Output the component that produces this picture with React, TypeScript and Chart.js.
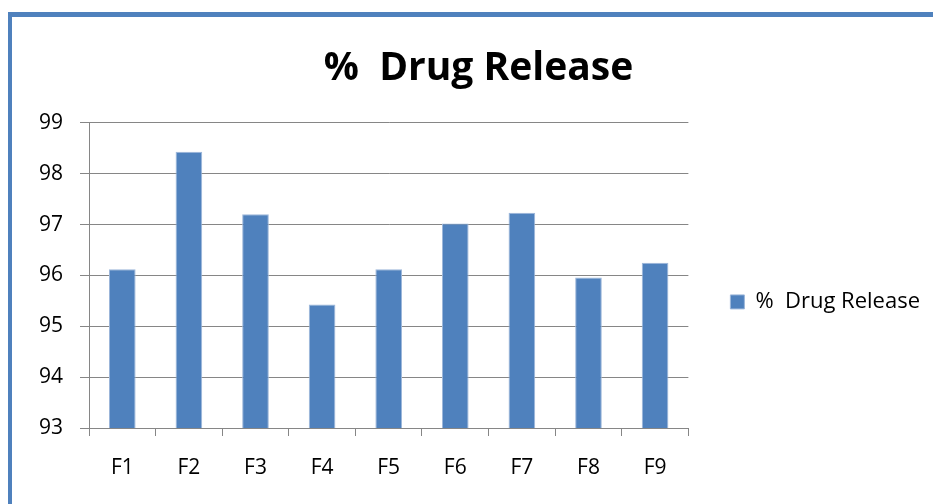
import React, { useEffect, useRef } from "react";
import { Chart, registerables } from "chart.js";

Chart.register(...registerables);

const categories = ["F1", "F2", "F3", "F4", "F5", "F6", "F7", "F8", "F9"];
const seriesLabel = "%  Drug Release";
const chartTitle = "%  Drug Release";
const drugRelease = [96.12, 98.43, 97.2, 95.43, 96.12, 97.02, 97.23, 95.96, 96.25];
const yMin = 93;
const yMax = 99;

const FONT = "'Open Sans', 'DejaVu Sans', sans-serif";
const BAR = "#4F81BD";
const GRID = "#868686";

export default function App() {
  const ref = useRef<HTMLCanvasElement | null>(null);
  useEffect(() => {
    if (!ref.current) return;
    const chart = new Chart(ref.current, {
      type: "bar",
      data: {
        labels: categories,
        datasets: [
          {
            label: seriesLabel,
            data: drugRelease,
            backgroundColor: BAR,
            borderColor: "#9DB7DA",
            borderWidth: 1,
            barPercentage: 0.4,
            categoryPercentage: 1,
          },
        ],
      },
      options: {
        responsive: false,
        animation: false,
        layout: { padding: { left: 27, right: 3, top: 0, bottom: 0 } },
        plugins: {
          legend: {
            display: true,
            position: "right",
            fullSize: false,
            maxWidth: 400,
            title: { display: true, text: " ", font: { size: 10 }, padding: { top: 20, bottom: 21 } },
            labels: {
              boxWidth: 14,
              boxHeight: 14,
              padding: 42,
              color: "#000",
              font: { family: FONT, size: 22 },
            },
          },
          tooltip: { enabled: false },
          title: {
            display: true,
            text: chartTitle,
            color: "#000",
            font: { family: FONT, size: 39, weight: "bold" },
            padding: { top: 45, bottom: 31 },
          },
        },
        scales: {
          x: {
            grid: {
              display: true,
              drawOnChartArea: false,
              drawTicks: true,
              tickLength: 8,
              color: GRID,
              offset: true,
            },
            border: { color: GRID, width: 1 },
            ticks: { color: "#000", font: { family: FONT, size: 21 }, padding: 19 },
            afterFit: (s: any) => {
              s.height = 76;
            },
          },
          y: {
            min: yMin,
            max: yMax,
            ticks: { stepSize: 1, color: "#000", font: { family: FONT, size: 21 }, padding: 17 },
            grid: { color: GRID, tickLength: 9, lineWidth: 1 },
            border: { color: GRID, width: 1 },
            afterFit: (s: any) => {
              s.width = 62;
            },
          },
        },
      },
    });
    let alive = true;
    if ((document as any).fonts && (document as any).fonts.ready) {
      (document as any).fonts.ready.then(() => {
        if (alive) chart.update();
      });
    }
    return () => {
      alive = false;
      chart.destroy();
    };
  }, []);

  return (
    <div style={{ position: "fixed", left: 0, top: 0, width: 933, height: 504, overflow: "hidden", background: "#fff" }}>
      <div
        style={{
          position: "absolute",
          left: 8,
          top: 12,
          width: 1000,
          height: 600,
          borderTop: "5px solid #4F81BD",
          borderLeft: "4px solid #4F81BD",
          boxSizing: "border-box",
        }}
      />
      <canvas ref={ref} width={933} height={504} style={{ position: "absolute", left: 0, top: 0 }} />
    </div>
  );
}
